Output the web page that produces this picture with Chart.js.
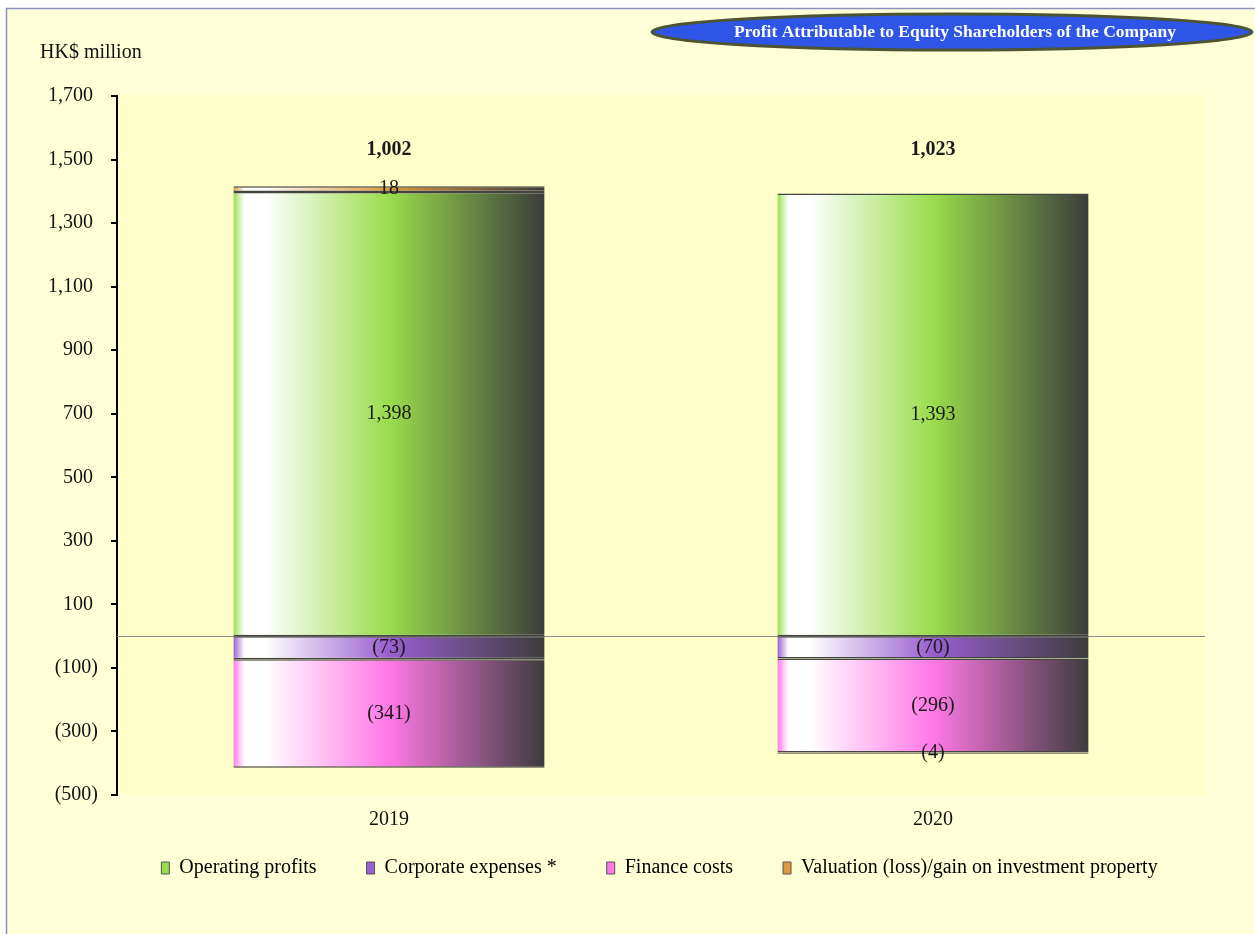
<!DOCTYPE html>
<html>
<head>
<meta charset="utf-8">
<script src="https://cdn.jsdelivr.net/npm/chart.js@4"></script>
<style>
  html, body { margin: 0; padding: 0; background: #ffffff; }
  #wrap { width: 1255px; height: 934px; }
</style>
</head>
<body>
<div id="wrap"><canvas id="myChart" width="1255" height="934"></canvas></div>
<script>
const years = ['2019', '2020'];
const operatingProfits = [1398, 1393];
const corporateExpenses = [-73, -70];
const financeCosts = [-341, -296];
const valuation = [18, -4];
const yTicks = [-500, -300, -100, 100, 300, 500, 700, 900, 1100, 1300, 1500, 1700];

const BAR_PCT = 0.572;
const TOTAL_LEVEL = 1530;
const serif = '"Liberation Serif", "Times New Roman", serif';

function fmt(v) {
  const s = Math.abs(v).toLocaleString('en-US');
  return v < 0 ? '(' + s + ')' : s;
}

function barGradient(color) {
  return function (c) {
    const chart = c.chart;
    if (!chart.chartArea || c.dataIndex === undefined) return color;
    const xs = chart.scales.x;
    const cx = xs.getPixelForValue(c.dataIndex);
    const half = (xs.width / years.length) * BAR_PCT / 2;
    const g = chart.ctx.createLinearGradient(cx - half, 0, cx + half, 0);
    g.addColorStop(0, color);
    g.addColorStop(0.035, '#ffffff');
    g.addColorStop(0.1, '#ffffff');
    g.addColorStop(0.5, color);
    g.addColorStop(1, '#3c3c3c');
    return g;
  };
}

const ctx = document.getElementById('myChart').getContext('2d');

const backdrop = {
  id: 'backdrop',
  afterLayout(chart) {
    // pull the legend row up and centre it under the plot like the original
    const lg = chart.legend;
    lg.left = 64;
    lg.right = 1255;
    lg.top = 808;
    lg.bottom = 888;
  },
  beforeDraw(chart) {
    const { ctx, chartArea: a } = chart;
    ctx.save();
    ctx.fillStyle = '#ffffd7';
    ctx.fillRect(6, 8, chart.width - 6, chart.height - 8);
    ctx.strokeStyle = '#8a8fc0';
    ctx.lineWidth = 1.5;
    ctx.beginPath();
    ctx.moveTo(6.5, chart.height);
    ctx.lineTo(6.5, 8.5);
    ctx.lineTo(chart.width, 8.5);
    ctx.stroke();
    ctx.fillStyle = '#ffffca';
    ctx.fillRect(a.left, a.top - 1, a.right - a.left, a.bottom - a.top + 1);

    // title ellipse
    ctx.beginPath();
    ctx.ellipse(952, 32, 300, 18, 0, 0, Math.PI * 2);
    ctx.fillStyle = '#2f55e6';
    ctx.fill();
    ctx.lineWidth = 3;
    ctx.strokeStyle = '#4d5530';
    ctx.stroke();
    ctx.fillStyle = '#ffffff';
    ctx.font = 'bold 17.5px ' + serif;
    ctx.textAlign = 'center';
    ctx.textBaseline = 'middle';
    ctx.fillText('Profit Attributable to Equity Shareholders of the Company', 955, 32);

    ctx.fillStyle = '#111';
    ctx.font = '20px ' + serif;
    ctx.textAlign = 'left';
    ctx.fillText('HK$ million', 40, 53);
    ctx.restore();
  },
  beforeDatasetsDraw(chart) {
    const { ctx, chartArea: a } = chart;
    const y0 = chart.scales.y.getPixelForValue(0);
    ctx.save();
    ctx.strokeStyle = '#8c8c8c';
    ctx.lineWidth = 1;
    ctx.beginPath();
    ctx.moveTo(a.left, Math.round(y0) + 0.5);
    ctx.lineTo(a.right, Math.round(y0) + 0.5);
    ctx.stroke();
    ctx.restore();
  }
};

const valueLabels = {
  id: 'valueLabels',
  afterDatasetsDraw(chart) {
    const { ctx } = chart;
    ctx.save();
    ctx.fillStyle = '#1a1a1a';
    ctx.textAlign = 'center';
    ctx.textBaseline = 'middle';
    ctx.font = '20px ' + serif;
    chart.data.datasets.forEach((ds, i) => {
      chart.getDatasetMeta(i).data.forEach((el, j) => {
        const v = ds.data[j];
        ctx.fillText(fmt(v), el.x, (el.y + el.base) / 2);
      });
    });
    ctx.font = 'bold 20px ' + serif;
    const yt = chart.scales.y.getPixelForValue(TOTAL_LEVEL);
    years.forEach((yr, j) => {
      const total = chart.data.datasets.reduce((s, ds) => s + ds.data[j], 0);
      ctx.fillText(fmt(total), chart.scales.x.getPixelForValue(j), yt);
    });
    ctx.restore();
  }
};

const seriesDefs = [
  { label: 'Operating profits', data: operatingProfits, color: '#99dd4c' },
  { label: 'Corporate expenses *', data: corporateExpenses, color: '#9a5fd0' },
  { label: 'Finance costs', data: financeCosts, color: '#ff78e6' },
  { label: 'Valuation (loss)/gain on investment property', data: valuation, color: '#dc9a3c' }
];

new Chart(ctx, {
  type: 'bar',
  data: {
    labels: years,
    datasets: seriesDefs.map(s => ({
      label: s.label,
      data: s.data,
      backgroundColor: barGradient(s.color),
      legendColor: s.color,
      borderColor: '#444444',
      borderWidth: { top: 1.5, bottom: 1.5, left: 0, right: 0 },
      borderSkipped: false,
      barPercentage: BAR_PCT,
      categoryPercentage: 1
    }))
  },
  options: {
    responsive: false,
    animation: false,
    layout: {
      padding: { left: 6, right: 50, top: 96, bottom: 22 }
    },
    scales: {
      x: {
        stacked: true,
        afterFit(scale) { scale.height = 37; },
        grid: { display: false },
        border: { display: false },
        ticks: {
          color: '#111',
          padding: 5,
          font: { family: serif, size: 20 }
        }
      },
      y: {
        stacked: true,
        min: -500,
        max: 1700,
        afterFit(scale) { scale.width = 111; },
        afterBuildTicks(scale) { scale.ticks = yTicks.map(v => ({ value: v })); },
        grid: {
          drawOnChartArea: false,
          color: '#000',
          lineWidth: 2,
          tickLength: 6
        },
        border: { color: '#000', width: 2 },
        ticks: {
          color: '#111',
          padding: 13,
          font: { family: serif, size: 20 },
          callback: v => v < 0 ? fmt(v) : fmt(v) + ' '
        }
      }
    },
    plugins: {
      tooltip: { enabled: false },
      legend: {
        position: 'bottom',
        labels: {
          color: '#111',
          boxWidth: 8,
          boxHeight: 12,
          padding: 50,
          font: { family: serif, size: 20 },
          generateLabels(chart) {
            return chart.data.datasets.map((ds, i) => ({
              text: ds.label,
              fillStyle: ds.legendColor,
              strokeStyle: '#555',
              lineWidth: 1,
              datasetIndex: i
            }));
          }
        }
      }
    }
  },
  plugins: [backdrop, valueLabels]
});
</script>
</body>
</html>
